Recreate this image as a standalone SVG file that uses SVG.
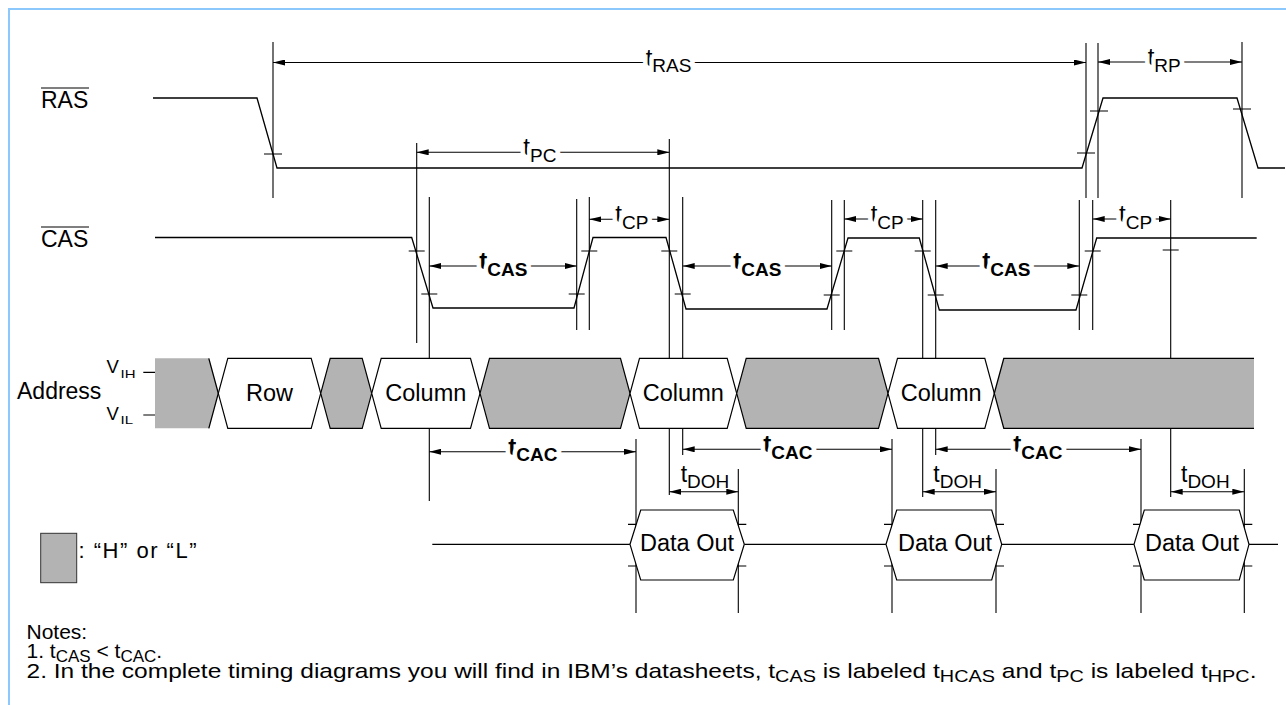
<svg xmlns="http://www.w3.org/2000/svg" width="1286" height="705" viewBox="0 0 1286 705">
  <defs>
    <marker id="ah" viewBox="0 0 12 6" refX="12" refY="3" markerWidth="12" markerHeight="6" markerUnits="userSpaceOnUse" orient="auto-start-reverse">
      <path d="M0,0 L12,3 L0,6 z" fill="#000"/>
    </marker>
    <style>
      text { font-family: "Liberation Sans", Arial, sans-serif; fill: #000; }
      .frame { fill: none; stroke: #8cc8fb; stroke-width: 2; }
      .ref { fill: none; stroke: #000; stroke-width: 1.1; }
      .tick { fill: none; stroke: #000; stroke-width: 1.2; }
      .sig { fill: none; stroke: #000; stroke-width: 1.3; stroke-linejoin: miter; }
      .dim { fill: none; stroke: #000; stroke-width: 1.1; marker-start: url(#ah); marker-end: url(#ah); }
      .hx { fill: #fff; stroke: #000; stroke-width: 1.2; }
      .gr { fill: #b3b3b3; stroke: #000; stroke-width: 1.2; }
      .grf { fill: #b3b3b3; stroke: none; }
      .name { font-size: 23px; }
      .bus { font-size: 23.5px; text-anchor: middle; }
      .lbl { font-size: 24px; paint-order: stroke; stroke: #fff; stroke-width: 9px; stroke-linejoin: round; }
      .b { font-weight: bold; }
      .sub { font-size: 19px; }
      .note { font-size: 21px; }
      .nsub { font-size: 17px; }
    </style>
  </defs>

  <rect width="1286" height="705" fill="#fff"/>
  <path class="frame" d="M9,705 V9 H1286"/>

  <!-- timing reference verticals -->
  <g id="reference-lines" class="ref">
    <path d="M273,42 V198 M1086,43 V198 M1098,43 V198 M1242,42 V198"/>
    <path d="M416.7,143 V343 M669.3,139 V495"/>
    <path d="M429.3,197 V501 M576.7,199 V330 M589.3,197 V330 M682.7,197 V455"/>
    <path d="M831.7,200 V330 M844.3,200 V330 M922.7,200 V497 M935.7,200 V455"/>
    <path d="M1079.3,200 V330 M1092.7,200 V330 M1170.7,200 V497"/>
    <path d="M636,439 V613 M738.3,469 V613 M892,439 V613 M996,469 V613 M1141,439 V613 M1244.3,469 V613"/>
  </g>

  <!-- threshold crossing ticks -->
  <g id="ticks" class="tick">
    <path d="M264,154 h18 M1077,153 h18 M1090,111 h18 M1233,109 h18"/>
    <path d="M408.7,251 h16 M421.3,294 h16 M568.7,294 h16 M581.3,251 h16 M661.3,251 h16 M674.7,294 h16"/>
    <path d="M823.7,295 h16 M836.3,251 h16 M914.7,251 h16 M927.7,295 h16 M1071.3,295 h16 M1084.7,251 h16 M1162.7,250 h16"/>
    <path d="M628,524.3 h16 M628,566 h16 M730.3,524.3 h16 M730.3,566 h16"/>
    <path d="M884,524.3 h16 M884,566 h16 M988,524.3 h16 M988,566 h16"/>
    <path d="M1133,524.3 h16 M1133,566 h16 M1236.3,524.3 h16 M1236.3,566 h16"/>
  </g>

  <!-- RAS -->
  <g id="ras">
    <text class="name" x="41" y="108">RAS</text>
    <path class="tick" d="M41,88 H89"/>
    <polyline class="sig" points="153,98 257,98 277,168 1082,168 1103,98 1237,98 1258,168 1285,168"/>
  </g>

  <!-- CAS -->
  <g id="cas">
    <text class="name" x="41" y="247">CAS</text>
    <path class="tick" d="M41,227 H89"/>
    <polyline class="sig" points="155,237.5 411.7,237.5 433,308 574,308 593,237.5 666,237.5 686,309 827,309 848,238 919.3,238 939.3,310 1076,310 1096.7,238 1256.7,238"/>
  </g>

  <!-- Address bus -->
  <g id="address">
    <text class="name" x="17" y="398.5">Address</text>
    <text x="106.5" y="373.3" font-size="18.5">V</text>
    <text x="120.5" y="377.5" font-size="11" textLength="15" lengthAdjust="spacingAndGlyphs">IH</text>
    <text x="106.5" y="420" font-size="18.5">V</text>
    <text x="120.5" y="423.5" font-size="11" textLength="12.5" lengthAdjust="spacingAndGlyphs">IL</text>
    <path class="tick" d="M143.3,372.3 H155 M143.3,415 H155"/>

    <polygon class="grf" points="155,358.3 208.8,358.3 218.3,393.3 208.8,428.3 155,428.3"/>
    <polyline class="sig" points="208.8,358.3 218.3,393.3 208.8,428.3"/>
    <polygon class="hx" points="218.3,393.3 227.8,358.3 311.2,358.3 320.7,393.3 311.2,428.3 227.8,428.3"/>
    <polygon class="gr" points="320.7,393.3 330.2,358.3 362.2,358.3 371.7,393.3 362.2,428.3 330.2,428.3"/>
    <polygon class="hx" points="371.7,393.3 381.2,358.3 470.5,358.3 480,393.3 470.5,428.3 381.2,428.3"/>
    <polygon class="gr" points="480,393.3 489.5,358.3 620.5,358.3 630,393.3 620.5,428.3 489.5,428.3"/>
    <polygon class="hx" points="630,393.3 639.5,358.3 727.2,358.3 736.7,393.3 727.2,428.3 639.5,428.3"/>
    <polygon class="gr" points="736.7,393.3 746.2,358.3 878.5,358.3 888,393.3 878.5,428.3 746.2,428.3"/>
    <polygon class="hx" points="888,393.3 897.5,358.3 984.8,358.3 994.3,393.3 984.8,428.3 897.5,428.3"/>
    <polygon class="grf" points="994.3,393.3 1003.8,358.3 1254,358.3 1254,428.3 1003.8,428.3"/>
    <polyline class="sig" points="1254,358.3 1003.8,358.3 994.3,393.3 1003.8,428.3 1254,428.3"/>

    <text class="bus" x="269.5" y="401">Row</text>
    <text class="bus" x="425.8" y="401">Column</text>
    <text class="bus" x="683.3" y="401">Column</text>
    <text class="bus" x="941.2" y="401">Column</text>
  </g>

  <!-- Data output -->
  <g id="data-out">
    <path class="sig" d="M432.3,544.3 H630 M744.3,544.3 H886 M1001.7,544.3 H1134 M1249,544.3 H1278"/>
    <polygon class="hx" points="630,544.3 640.7,510 733.3,510 744.3,544.3 733.3,580 640.7,580"/>
    <polygon class="hx" points="886,544.3 896.7,510 991.7,510 1001.7,544.3 991.7,580 896.7,580"/>
    <polygon class="hx" points="1134,544.3 1144.3,510 1239.3,510 1249,544.3 1239.3,580 1144.3,580"/>
    <text class="bus" x="687" y="551">Data Out</text>
    <text class="bus" x="945" y="551">Data Out</text>
    <text class="bus" x="1192" y="551">Data Out</text>
  </g>

  <!-- dimension arrows -->
  <g id="connectors" class="dim">
    <path d="M273,62.5 H1086"/>
    <path d="M1098,62 H1242"/>
    <path d="M416.7,152.3 H669.3"/>
    <path d="M589.3,219.3 H669.3"/>
    <path d="M844.3,219 H922.7"/>
    <path d="M1092.7,219 H1170.7"/>
    <path d="M429.3,266 H576.7"/>
    <path d="M682.7,266 H831.7"/>
    <path d="M935.7,266 H1079.3"/>
    <path d="M429.3,451.7 H636"/>
    <path d="M682.7,449.3 H892"/>
    <path d="M935.7,449.3 H1141"/>
    <path d="M669.3,491.7 H738.3"/>
    <path d="M922.7,491.7 H996"/>
    <path d="M1170.7,491.7 H1244.3"/>
  </g>

  <!-- timing parameter labels -->
  <g id="labels">
    <text class="lbl" x="645.7" y="65.5">t<tspan class="sub" dy="6.5">RAS</tspan></text>
    <text class="lbl" x="1147.7" y="65">t<tspan class="sub" dy="6.5">RP</tspan></text>
    <text class="lbl" x="523.3" y="155.3">t<tspan class="sub" dy="6.5">PC</tspan></text>
    <text class="lbl" x="615.3" y="222.3">t<tspan class="sub" dy="6.5">CP</tspan></text>
    <text class="lbl" x="870.7" y="222">t<tspan class="sub" dy="6.5">CP</tspan></text>
    <text class="lbl" x="1119" y="222">t<tspan class="sub" dy="6.5">CP</tspan></text>
    <text class="lbl b" x="479.3" y="269">t<tspan class="sub" dy="6.5">CAS</tspan></text>
    <text class="lbl b" x="733.3" y="269">t<tspan class="sub" dy="6.5">CAS</tspan></text>
    <text class="lbl b" x="982.3" y="269">t<tspan class="sub" dy="6.5">CAS</tspan></text>
    <text class="lbl b" x="508.3" y="454.7">t<tspan class="sub" dy="6.5">CAC</tspan></text>
    <text class="lbl b" x="763.3" y="452.3">t<tspan class="sub" dy="6.5">CAC</tspan></text>
    <text class="lbl b" x="1013.3" y="452.3">t<tspan class="sub" dy="6.5">CAC</tspan></text>
    <text class="name" x="680.7" y="481.5">t<tspan class="sub" dy="6">DOH</tspan></text>
    <text class="name" x="933.3" y="481.5">t<tspan class="sub" dy="6">DOH</tspan></text>
    <text class="name" x="1181" y="481.5">t<tspan class="sub" dy="6">DOH</tspan></text>
  </g>

  <!-- legend -->
  <g id="legend">
    <rect x="40.7" y="533.3" width="36" height="49.4" fill="#b3b3b3" stroke="#333" stroke-width="1"/>
    <text x="78.5" y="558.3" font-size="22" textLength="118" lengthAdjust="spacing">: “H” or “L”</text>
  </g>

  <!-- notes -->
  <g id="notes">
    <text class="note" x="26.5" y="639.3">Notes:</text>
    <text class="note" x="26.5" y="658.3">1. t<tspan class="nsub" dy="4">CAS</tspan><tspan dy="-4"> &lt; t</tspan><tspan class="nsub" dy="4">CAC</tspan><tspan dy="-4">.</tspan></text>
    <text class="note" x="26.5" y="678.3" font-size="22" textLength="1230" lengthAdjust="spacingAndGlyphs">2. In the complete timing diagrams you will find in IBM’s datasheets, t<tspan class="nsub" dy="4">CAS</tspan><tspan dy="-4"> is labeled t</tspan><tspan class="nsub" dy="4">HCAS</tspan><tspan dy="-4"> and t</tspan><tspan class="nsub" dy="4">PC</tspan><tspan dy="-4"> is labeled t</tspan><tspan class="nsub" dy="4">HPC</tspan><tspan dy="-4">.</tspan></text>
  </g>
</svg>
